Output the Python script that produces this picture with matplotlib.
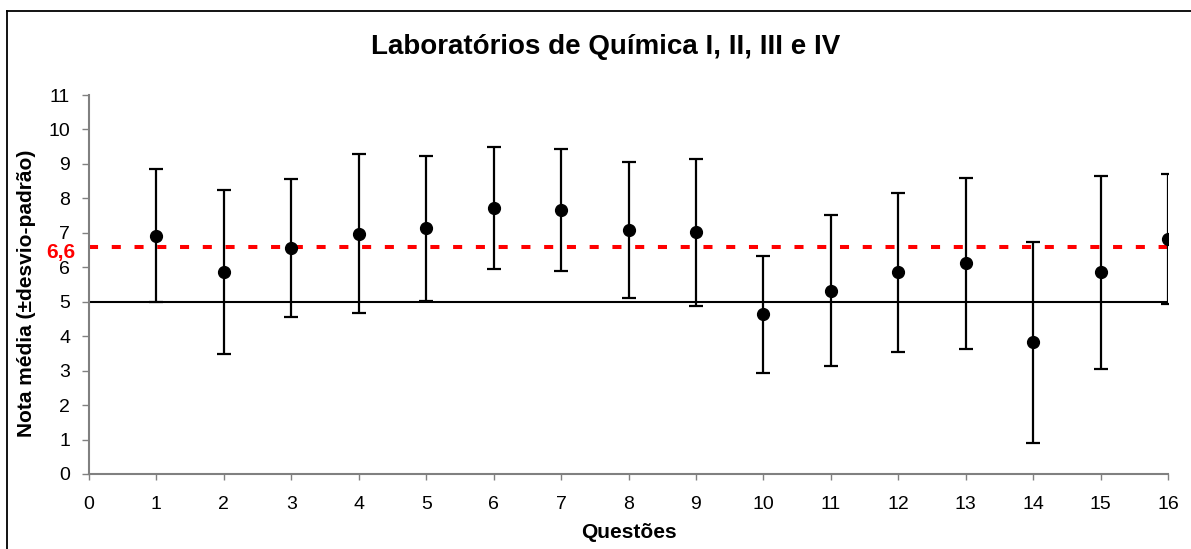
import matplotlib
matplotlib.use("Agg")
import matplotlib.pyplot as plt
from matplotlib.lines import Line2D

plt.rcParams['font.family'] = ['Liberation Sans', 'DejaVu Sans']

questions = list(range(1, 17))
means = [6.92, 5.85, 6.55, 6.98, 7.13, 7.72, 7.67, 7.08, 7.02, 4.63, 5.32, 5.85, 6.12, 3.82, 5.85, 6.82]
sds = [1.94, 2.38, 2.00, 2.30, 2.10, 1.76, 1.77, 1.98, 2.13, 1.71, 2.19, 2.30, 2.48, 2.91, 2.80, 1.90]
overall_mean = 6.6
pass_mark = 5
x_ticks = list(range(0, 17))
y_ticks = list(range(0, 12))

W, H = 1191, 549
fig = plt.figure(figsize=(W / 100, H / 100), dpi=100)
ax = fig.add_axes([89 / W, 1 - 474 / H, (1168 - 89) / W, (474 - 95) / H])

ax.axhline(pass_mark, color='black', lw=1.5, zorder=1)
ax.axhline(overall_mean, color='#ff0000', lw=2.9, dashes=(2.25, 3.4), zorder=2)

ax.errorbar(questions, means, yerr=sds, fmt='o', color='black', ecolor='black',
            markersize=8.5, elinewidth=1.6, capsize=5, capthick=1.6, zorder=3)

ax.set_xlim(0, 16)
ax.set_ylim(0, 11)
ax.set_xticks(x_ticks)
ax.set_yticks(y_ticks)
ax.tick_params(axis='both', labelsize=14, width=1, color='#808080', direction='out')
ax.tick_params(axis='x', length=4, pad=12)
ax.tick_params(axis='y', length=5, pad=8.6)
for s in ['top', 'right']:
    ax.spines[s].set_visible(False)
for s in ['left', 'bottom']:
    ax.spines[s].set_color('#808080')
    ax.spines[s].set_linewidth(1.5)
for sp in ax.spines.values():
    sp.set_clip_on(False)

fig.text(629 / W, 1 - 533 / H, 'Questões', ha='center', va='center',
         fontsize=15, fontweight='bold')
fig.text(27 / W, 1 - 293.5 / H, 'Nota média (±desvio-padrão)', ha='center', va='center',
         rotation=90, fontsize=15, fontweight='bold')
fig.text(606 / W, 1 - 47 / H, 'Laboratórios de Química I, II, III e IV', ha='center', va='center',
         fontsize=20, fontweight='bold')

ax.text(-0.2, 6.42, '6,6', color='#ff0000', fontsize=15, fontweight='bold',
        ha='right', va='center', transform=ax.transData, clip_on=False)

# figure border (left and top)
fig.add_artist(Line2D([7 / W, 7 / W], [0, 1 - 11 / H], color='black', lw=1.3, transform=fig.transFigure))
fig.add_artist(Line2D([7 / W, 1], [1 - 11 / H, 1 - 11 / H], color='black', lw=1.3, transform=fig.transFigure))

fig.savefig('out.png', dpi=100)
